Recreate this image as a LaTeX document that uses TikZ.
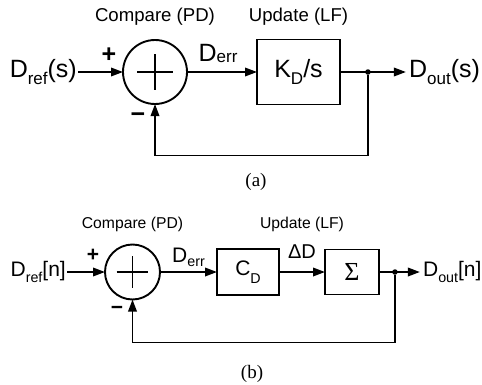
\documentclass[tikz,border=0pt]{standalone}
\usepackage{fontspec}
\setmainfont{Liberation Sans}
\newfontfamily\capfont{Liberation Serif}
\usepackage{tikz}
\usetikzlibrary{positioning}
\usetikzlibrary{calc}
\usetikzlibrary{arrows.meta}

\newcommand{\lowsub}[2][0.3em]{\raisebox{-#1}{\scalebox{0.68}{#2}}}

\tikzset{
    wire/.style={line width=1.9pt},
    sig/.style={wire, -{Triangle[length=12pt,width=8.5pt]}},
    sumnode/.style={circle, draw, line width=1.9pt, inner sep=0pt, outer sep=0pt, minimum size=#1},
    blk/.style={draw, line width=1.9pt, inner sep=0pt, outer sep=0pt},
    junc/.style={circle, fill, inner sep=0pt, minimum size=5.5pt},
    lblA/.style={inner sep=1pt, font=\fontsize{25}{28}\selectfont},
    lblB/.style={inner sep=1pt, font=\fontsize{21}{24}\selectfont},
    hdrA/.style={inner sep=0pt, font=\fontsize{18.6}{21}\selectfont},
    hdrB/.style={inner sep=0pt, font=\fontsize{15.7}{18}\selectfont},
    signA/.style={inner sep=0pt, font=\bfseries\fontsize{25}{28}\selectfont},
    signB/.style={inner sep=0pt, font=\bfseries\fontsize{21}{24}\selectfont},
    capt/.style={inner sep=0pt, font=\capfont\fontsize{19}{21}\selectfont},
}

\begin{document}
\begin{tikzpicture}
    \useasboundingbox (0,0) rectangle (482pt,384pt);

    % (a)
    \node[sumnode=64pt] (sumA) at (155pt,312pt) {};
    \draw[wire] ($(sumA.center)!0.56!(sumA.west)$) -- ($(sumA.center)!0.56!(sumA.east)$);
    \draw[wire] ($(sumA.center)!0.56!(sumA.north)$) -- ($(sumA.center)!0.56!(sumA.south)$);
    \node[lblA, left=45pt of sumA] (drefA) {D\lowsub{ref}(s)};
    \node[blk, lblA, minimum width=83pt, minimum height=65pt, right=70pt of sumA] (boxA) {K\lowsub{D}/s};
    \node[junc, right=25pt of boxA] (dotA) {};
    \node[lblA, inner sep=3pt, right=35pt of dotA] (doutA) {D\lowsub[0.27em]{out}(s)};
    \coordinate[below=80.5pt of dotA] (fbA);
    \node[signA] (plusA) at ($(sumA)+(-46pt,17pt)$) {+};
    \node[signA] (minusA) at ($(sumA)+(-17pt,-46pt)$) {−};
    \node[hdrA, above=14pt of sumA] (cmpA) {Compare (PD)};
    \node[hdrA] (updA) at (boxA |- cmpA) {Update (LF)};
    \node[capt] (capA) at (256pt,202pt) {(a)};

    \draw[sig] (drefA) -- (sumA);
    \draw[sig] (sumA) -- node[lblA, anchor=base, yshift=11pt, xshift=-4pt] (errA) {D\lowsub[0.05em]{err}} (boxA);
    \draw[sig] (boxA) -- (doutA);
    \draw[sig] (dotA) -- (fbA) -| (sumA.south);

    % (b)
    \node[sumnode=55pt] (sumB) at (132.5pt,112pt) {};
    \draw[wire] ($(sumB.center)!0.58!(sumB.west)$) -- ($(sumB.center)!0.58!(sumB.east)$);
    \draw[wire] ($(sumB.center)!0.58!(sumB.north)$) -- ($(sumB.center)!0.58!(sumB.south)$);
    \node[lblB, left=38pt of sumB] (drefB) {D\lowsub{ref}[n]};
    \node[blk, lblB, minimum width=62pt, minimum height=46pt, right=57pt of sumB] (boxC) {C\lowsub[0.35em]{D}};
    \node[blk, minimum width=54pt, minimum height=45pt, right=46pt of boxC, font=\capfont\fontsize{26}{28}\selectfont] (boxS) {Σ};
    \node[junc, right=13pt of boxS] (dotB) {};
    \node[lblB, inner sep=3pt, right=22pt of dotB] (doutB) {D\lowsub{out}[n]};
    \coordinate[below=67.5pt of dotB] (fbB);
    \node[signB] (plusB) at ($(sumB)+(-39.5pt,17pt)$) {+};
    \node[signB] (minusB) at ($(sumB)+(-15.5pt,-38pt)$) {−};
    \node[hdrB, above=13pt of sumB] (cmpB) {Compare (PD)};
    \node[capt] (capB) at (252pt,10pt) {(b)};

    \draw[sig] (drefB) -- (sumB);
    \draw[sig] (sumB) -- node[lblB, anchor=base, yshift=10pt] (errB) {D\lowsub[0.2em]{err}} (boxC);
    \draw[sig] (boxC) -- node[lblB, anchor=base, yshift=14pt, font=\fontsize{20}{24}\selectfont] (dD) {ΔD} (boxS);
    \node[hdrB] (updB) at (dD |- cmpB) {Update (LF)};
    \draw[sig] (boxS) -- (doutB);
    \draw[sig] (dotB) -- (fbB) -| (sumB.south);
\end{tikzpicture}
\end{document}
